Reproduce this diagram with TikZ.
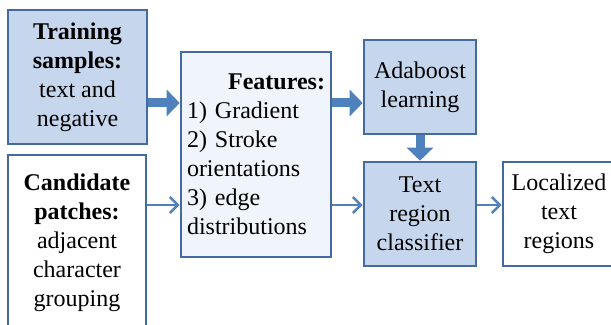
\documentclass[tikz,border=0pt]{standalone}
\usepackage{fontspec}
\setmainfont{Liberation Serif}
\usetikzlibrary{arrows.meta}
\definecolor{boxline}{RGB}{68,106,160}
\definecolor{boxfill}{RGB}{198,215,237}
\definecolor{featfill}{RGB}{240,245,251}
\definecolor{arrowblue}{RGB}{79,129,189}

\begin{document}
\begin{tikzpicture}[x=1pt, y=1pt, font=\fontsize{12}{14.5}\selectfont,
    box/.style={draw=boxline, line width=1.3pt, fill=white, align=center, inner sep=2pt},
    darkbox/.style={box, fill=boxfill},
    fat/.style={draw=arrowblue, line width=4.5pt, -{Triangle[length=6.5pt, width=13pt]}},
    slim/.style={draw=arrowblue, line width=1.1pt, -{Straight Barb[length=4pt, width=8pt, line width=1.3pt]}}]
    \useasboundingbox (0, 0) rectangle (305.5, -162.5);
    \clip (0, 0) rectangle (305.5, -162.5);

    \node (train) [darkbox, minimum width=69.5pt, minimum height=67pt] at (38.75, -38.5)
        {\textbf{Training}\\\textbf{samples:}\\text and\\negative};
    \node (cand) [box, minimum width=69pt, minimum height=87.5pt] at (38.5, -121.25)
        {\textbf{Candidate}\\\textbf{patches:}\\adjacent\\character\\grouping};
    \node (feat) [box, fill=featfill, minimum width=75pt, minimum height=102.5pt,
        text width=69pt, align=left] at (128, -77.25)
        {\hspace*{\fill}\textbf{Features:}\hspace*{\fill}\\1) Gradient\\2) Stroke\\orientations\\3) edge\\distributions};
    \node (ada) [darkbox, minimum width=56pt, minimum height=47pt] at (210, -43.5)
        {Adaboost\\learning};
    \node (clf) [darkbox, minimum width=56pt, minimum height=52pt] at (210, -107)
        {Text\\region\\classifier};
    \node (loc) [box, minimum width=56pt, minimum height=52pt] at (279.5, -107)
        {Localized\\text\\regions};

    \draw[fat] ([yshift=-13pt]train.east) -- ([yshift=-13pt]train.east -| feat.west);
    \draw[fat] ([yshift=-8pt]ada.west -| feat.east) -- ([yshift=-8pt]ada.west);
    \draw[fat] (ada.south) -- (clf.north);
    \draw[slim] ([yshift=18.75pt]cand.east) -- ([yshift=18.75pt]cand.east -| feat.west);
    \draw[slim] ([yshift=4.5pt]clf.west -| feat.east) -- ([yshift=4.5pt]clf.west);
    \draw[slim] ([yshift=4.5pt]clf.east) -- ([yshift=4.5pt]loc.west);
\end{tikzpicture}
\end{document}
